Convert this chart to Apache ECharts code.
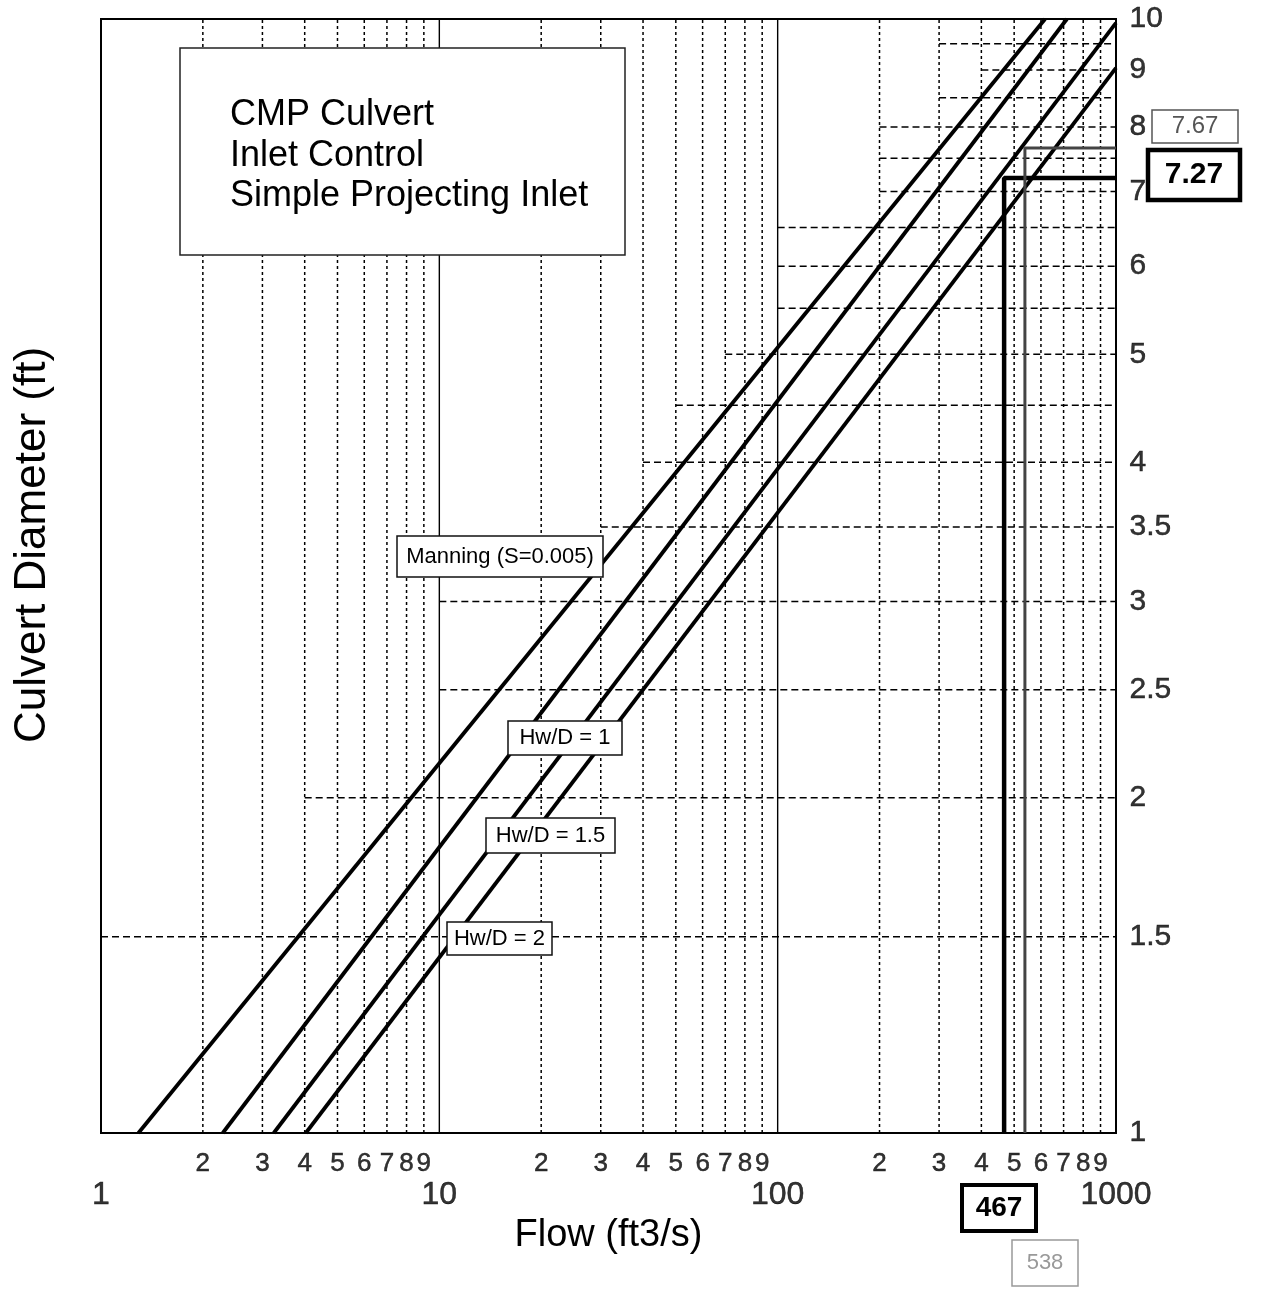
<!DOCTYPE html>
<html><head><meta charset="utf-8">
<script src="https://cdn.jsdelivr.net/npm/echarts@6/dist/echarts.min.js"></script>
<style>html,body{margin:0;padding:0;background:#fff}#c{width:1261px;height:1290px}</style>
</head><body><div id="c"></div>
<script>
const FONT = '"Liberation Sans", Arial, Helvetica, sans-serif';

// ---- data (Flow ft3/s, Diameter ft) ----
const manningLine = [[1.29, 1], [617, 10]];
const hwd1Line    = [[2.29, 1], [716, 10]];
const hwd15Line   = [[3.24, 1], [1000, 9.92]];
const hwd2Line    = [[4.03, 1], [1000, 9.04]];
const designLine  = [[467, 1], [467, 7.2], [1000, 7.2]];
const checkLine   = [[538, 1], [538, 7.66], [1000, 7.66]];

const xMajorTicks = [1, 10, 100, 1000];
const xMinorTicks = [2,3,4,5,6,7,8,9,20,30,40,50,60,70,80,90,200,300,400,500,600,700,800,900];
const xDecadeLines = [10, 100];
const yTickLabels = [1, 1.5, 2, 2.5, 3, 3.5, 4, 5, 6, 7, 8, 9, 10];
const hGridD      = [1.5, 2, 2.5, 3, 3.5, 4, 4.5, 5, 5.5, 6, 6.5, 7, 7.5, 8, 8.5, 9, 9.5];
const hGridStartQ = [1, 4, 10, 10, 30, 40, 50, 70, 100, 100, 100, 200, 200, 200, 300, 400, 300];

const base = {type:'line', symbol:'none', silent:true, animation:false};
const series = [];
xMinorTicks.forEach(q => series.push(Object.assign({}, base, {
  data:[[q,1],[q,10]], z:1, lineStyle:{color:'#000', width:1.5, type:[3,3]}
})));
xDecadeLines.forEach(q => series.push(Object.assign({}, base, {
  data:[[q,1],[q,10]], z:1, lineStyle:{color:'#000', width:1.4}
})));
hGridD.forEach((d,i) => series.push(Object.assign({}, base, {
  data:[[hGridStartQ[i],d],[1000,d]], z:1, lineStyle:{color:'#000', width:1.5, type:[7,4]}
})));
[['Manning (S=0.005)', manningLine], ['Hw/D = 1', hwd1Line], ['Hw/D = 1.5', hwd15Line], ['Hw/D = 2', hwd2Line]]
.forEach(([n, d]) => series.push(Object.assign({}, base, {
  name:n, data:d, z:3, lineStyle:{color:'#000', width:3.8}
})));
series.push(Object.assign({}, base, {name:'467', data:designLine, z:4, lineStyle:{color:'#000', width:4.5}}));
series.push(Object.assign({}, base, {name:'538', data:checkLine, z:4, lineStyle:{color:'#444', width:3}}));

// tick labels drawn at axis positions
const lbl = (extra) => Object.assign({type:'scatter', symbolSize:1, silent:true, animation:false,
  itemStyle:{color:'transparent'}, z:5}, extra);
const tickText = {color:'#000', fontFamily:FONT, textBorderColor:'#000', textBorderWidth:0.5};
series.push(lbl({data:xMinorTicks.map(q=>[q,1]),
  label:Object.assign({show:true, position:'bottom', distance:17, formatter:p=>String(p.value[0]).charAt(0),
    fontSize:26}, tickText)}));
series.push(lbl({data:xMajorTicks.map(q=>[q,1]),
  label:Object.assign({show:true, position:'bottom', distance:46, formatter:p=>String(p.value[0]),
    fontSize:32}, tickText)}));
series.push(lbl({data:yTickLabels.map(d=>[1000,d]),
  label:Object.assign({show:true, position:'right', distance:13, formatter:p=>String(p.value[1]),
    fontSize:30}, tickText)}));

function boxLabel(text, x, y, w, h, fs) {
  return {type:'group', z:100, children:[
    {type:'rect', z:100, shape:{x:x, y:y, width:w, height:h}, style:{fill:'#fff', stroke:'#111', lineWidth:1.5}},
    {type:'text', z:101, x:x+w/2, y:y+h/2, style:{text:text, font:fs+'px '+FONT, fill:'#000',
      align:'center', verticalAlign:'middle', textAlign:'center', textVerticalAlign:'middle'}}
  ]};
}
function hand(text, x, y, w, h, fs, lw, color, bold) {
  return {type:'group', z:100, children:[
    {type:'rect', z:100, shape:{x:x, y:y, width:w, height:h}, style:{fill:'#fff', stroke:color, lineWidth:lw}},
    {type:'text', z:101, x:x+w/2, y:y+h/2, style:{text:text, font:(bold?'bold ':'')+fs+'px '+FONT, fill:color,
      align:'center', verticalAlign:'middle', textAlign:'center', textVerticalAlign:'middle'}}
  ]};
}

const chart = echarts.init(document.getElementById('c'), null, {renderer:'canvas'});
chart.setOption({
  animation:false,
  backgroundColor:'#fff',
  grid:{left:101, right:145, top:19, bottom:157, show:true, borderColor:'#000', borderWidth:2, backgroundColor:'transparent'},
  xAxis:{type:'log', logBase:10, min:1, max:1000,
    name:'Flow (ft3/s)', nameLocation:'middle', nameGap:84,
    nameTextStyle:{fontSize:38, color:'#000', fontFamily:FONT},
    axisLine:{show:false}, axisTick:{show:false}, axisLabel:{show:false}, splitLine:{show:false}},
  yAxis:{type:'log', logBase:10, min:1, max:10, position:'right',
    axisLine:{show:false}, axisTick:{show:false}, axisLabel:{show:false}, splitLine:{show:false}},
  series: series,
  graphic:[
    {type:'group', z:100, children:[
      {type:'rect', z:100, shape:{x:180, y:48, width:445, height:207}, style:{fill:'#fff', stroke:'#222', lineWidth:1.5}},
      {type:'text', z:101, x:230, y:115, style:{text:'CMP Culvert', font:'36px '+FONT, fill:'#000', verticalAlign:'middle', textVerticalAlign:'middle'}},
      {type:'text', z:101, x:230, y:156, style:{text:'Inlet Control', font:'36px '+FONT, fill:'#000', verticalAlign:'middle', textVerticalAlign:'middle'}},
      {type:'text', z:101, x:230, y:196, style:{text:'Simple Projecting Inlet', font:'36px '+FONT, fill:'#000', verticalAlign:'middle', textVerticalAlign:'middle'}}
    ]},
    boxLabel('Manning (S=0.005)', 397, 536, 206, 41, 22),
    boxLabel('Hw/D = 1', 508, 721, 114, 34, 22),
    boxLabel('Hw/D = 1.5', 486, 818, 129, 35, 22),
    boxLabel('Hw/D = 2', 447, 922, 105, 33, 22),
    {type:'text', z:100, x:33, y:545, rotation:Math.PI/2,
      style:{text:'Culvert Diameter (ft)', font:'44px '+FONT, fill:'#000', align:'center', verticalAlign:'middle', textAlign:'center', textVerticalAlign:'middle'}},
    hand('467', 962, 1185, 74, 46, 28, 4, '#000', true),
    hand('538', 1012, 1240, 66, 46, 22, 1.5, '#999', false),
    hand('7.27', 1148, 150, 92, 50, 30, 4.5, '#000', true),
    hand('7.67', 1152, 110, 86, 33, 24, 1.5, '#555', false)
  ]
});
</script>
</body></html>
